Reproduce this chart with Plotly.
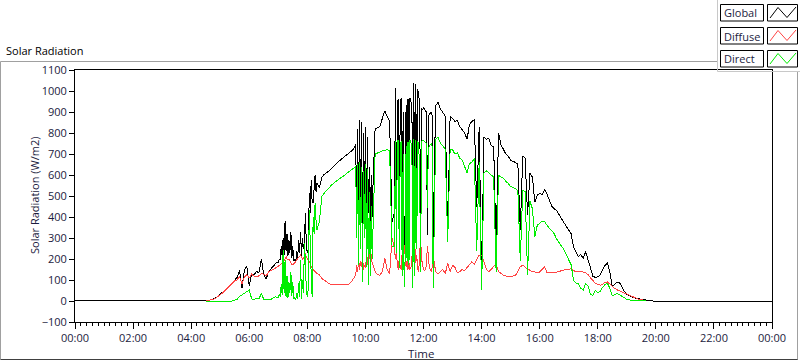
import plotly.graph_objects as go

# ---------------- data (minutes after midnight, W/m2) ----------------
minutes = ([0] + list(range(270, 416, 5)) + list(range(420, 501, 2))
           + list(range(505, 576, 5)) + list(range(580, 621, 2))
           + list(range(625, 656, 5)) + list(range(660, 741, 2))
           + list(range(745, 1201, 5)) + [1440])

global_rad = [0,
    # 04:30-06:55
    0, 2, 5, 8, 14, 22,
    32, 40, 52, 62, 75, 88, 100, 112, 145, 60, 150, 165,
    70, 130, 125, 140, 135, 200, 125, 105, 140, 155, 170, 180,
    # 07:00-08:20
    185, 200, 195, 260, 210, 300, 220, 380, 240, 320, 215, 290, 230, 330, 205,
    260, 190, 200, 185, 240, 200, 290, 230, 330, 210, 300, 250, 280, 420, 260,
    230, 250, 514, 420, 577, 470, 466, 540, 601, 520, 560,
    # 08:25-09:35
    540, 590, 603, 610, 620, 632, 645, 655, 665, 675, 685, 693, 702, 712, 722,
    # 09:40-10:20
    745, 420, 820, 380, 860, 400, 850, 360, 800, 430, 830, 350, 780, 420, 640,
    330, 600, 400, 580, 700, 820,
    # 10:25-10:55
    825, 830, 870, 905, 880, 856, 378,
    # 11:00-12:20
    420, 1015, 400, 950, 960, 378, 940, 968, 300, 900, 251, 420, 935, 400, 960,
    380, 968, 950, 940, 251, 1039, 330, 1031, 480, 1010, 985, 930, 410, 920, 910,
    920, 915, 905, 900, 314, 880, 890, 896, 900, 880, 299,
    # 12:25-12:55
    930, 945, 915, 900, 880, 320, 880,
    # 13
    870, 855, 860, 830, 815, 800, 770, 840, 855, 862, 450, 830,
    # 14
    120, 780, 770, 775, 740, 735, 250, 800, 745, 720, 700, 690,
    # 15
    670, 665, 660, 650, 340, 690, 680, 410, 610, 590, 470, 505,
    # 16
    512, 506, 530, 510, 478, 452, 440, 430, 412, 392, 370, 355,
    # 17
    338, 320, 255, 232, 212, 222, 203, 235, 195, 165, 118, 112,
    # 18
    115, 125, 150, 170, 180, 140, 70, 82, 90, 88, 65, 45,
    # 19
    32, 24, 20, 16, 12, 10, 8, 6, 4, 2, 1, 0,
    # 20:00
    0,
    0]

diffuse_rad = [None,
    0, 2, 5, 8, 13, 21,
    30, 38, 50, 60, 72, 84, 96, 100, 118, 80, 115, 125,
    110, 128, 118, 115, 120, 131, 128, 120, 138, 145, 150, 155,
    165, 170, 172, 178, 180, 185, 190, 205, 211, 200, 195, 200, 190, 185, 175,
    171, 175, 180, 187, 195, 200, 205, 215, 219, 210, 200, 205, 215, 227, 210,
    203, 195, 190, 180, 160, 155, 150, 148, 140, 135, 131,
    125, 107, 99, 90, 82, 79, 78, 78, 78, 77, 77, 78, 80, 88, 105,
    123, 170, 140, 200, 150, 190, 160, 210, 150, 170, 160, 200, 170, 230, 200,
    251, 210, 180, 170, 150, 140,
    125, 123, 140, 203, 150, 130, 299,
    250, 200, 240, 170, 150, 210, 160, 150, 235, 180, 267, 220, 160, 190, 150,
    180, 150, 160, 200, 307, 230, 267, 180, 220, 150, 140, 240, 299, 200, 160,
    150, 145, 150, 170, 260, 219, 160, 150, 140, 160, 219,
    140, 130, 140, 150, 130, 180, 140,
    170, 160, 135, 140, 150, 145, 160, 170, 187, 175, 200, 219,
    219, 180, 150, 140, 150, 165, 171, 140, 130, 123, 120, 115,
    115, 120, 123, 140, 163, 171, 160, 150, 147, 139, 139, 135,
    138, 150, 163, 135, 135, 133, 135, 138, 140, 143, 147, 150,
    150, 155, 145, 140, 140, 139, 138, 135, 125, 110, 95, 85,
    80, 75, 80, 88, 91, 80, 67, 60, 53, 48, 42, 36,
    32, 25, 20, 15, 10, 8, 6, 4, 2, None, None, None,
    None,
    None]

direct_rad = [None,
    0, 0, 0, 0, 0, -2,
    -3, -4, -5, -4, -3, 0, 3, 8, 22, 30, 35, 45,
    52, 10, 8, 12, 10, 35, 8, 5, 5, 8, 15, 20,
    15, 30, 20, 80, 30, 245, 40, 195, 20, 120, 15, 90, 40, 140, 25,
    90, 10, 15, 5, 40, 10, 85, 20, 195, 10, 100, 40, 275, 190, 45,
    20, 60, 434, 230, 120, 20, 400, 320, 466, 380, 340,
    380, 498, 514, 528, 540, 552, 562, 572, 580, 588, 596, 604, 612, 620, 630,
    640, 300, 650, 171, 660, 250, 640, 92, 620, 300, 650, 160, 630, 75, 520,
    120, 450, 200, 400, 560, 700,
    705, 712, 715, 718, 720, 715, 260,
    260, 760, 230, 760, 765, 155, 750, 760, 120, 700, 68, 200, 740, 190, 755,
    170, 765, 750, 740, 60, 770, 120, 765, 250, 760, 755, 600, 140, 760, 765,
    765, 760, 755, 750, 442, 720, 740, 745, 750, 735, 60,
    770, 780, 750, 740, 720, 283, 720,
    720, 700, 705, 680, 670, 640, 610, 655, 660, 680, 240, 660,
    52, 610, 620, 610, 600, 590, 140, 600, 590, 585, 570, 560,
    545, 540, 535, 525, 190, 530, 520, 123, 474, 440, 307, 360,
    368, 380, 378, 360, 345, 335, 320, 295, 275, 262, 245, 220,
    190, 172, 99, 85, 82, 60, 52, 83, 72, 30, 28, 50,
    40, 45, 65, 78, 85, 60, 25, 30, 35, 30, 22, 15,
    8, 5, 4, 3, 2, 2, 1, 1, 0, None, None, None,
    None,
    None]

series_names = ["Global", "Diffuse", "Direct"]
tick_minutes = list(range(0, 1441, 120))
tick_labels = ["00:00", "02:00", "04:00", "06:00", "08:00", "10:00", "12:00",
               "14:00", "16:00", "18:00", "20:00", "22:00", "00:00"]

for arr in (global_rad, diffuse_rad, direct_rad):
    assert len(arr) == len(minutes), (len(arr), len(minutes))

# ---------------- figure ----------------
W, H = 800, 361
L, R, T, B = 75, 28, 70, 39
PW, PH = W - L - R, H - T - B
FONT = "Open Sans"
TXT = "#1c1c40"
colors = ["#000000", "#ff4444", "#00ee00"]


def px(x):
    return (x - L) / PW


def py(y):
    return (T + PH - y) / PH


fig = go.Figure()
for name, vals, col in zip(series_names, [global_rad, diffuse_rad, direct_rad], colors):
    fig.add_trace(go.Scatter(x=minutes, y=vals, mode="lines", name=name,
                             line=dict(color=col, width=1), showlegend=False,
                             connectgaps=False, hoverinfo="skip"))

shapes = []


def line(x0, y0, x1, y1, color, width=1):
    shapes.append(dict(type="line", xref="paper", yref="paper",
                       x0=px(x0), y0=py(y0), x1=px(x1), y1=py(y1),
                       line=dict(color=color, width=width)))


# outer frame
line(0.5, 61.5, 717, 61.5, "#a0a0a0")
line(0.5, 61.5, 0.5, 359.5, "#a0a0a0")
line(0.5, 359.5, 798, 359.5, "#404040")
line(797.5, 71.5, 797.5, 359.5, "#a0a0a0")
# legend panel
line(717.5, 0, 717.5, 71.5, "#c8c8c8")
line(717.5, 71.5, 800, 71.5, "#c8c8c8")

legend_rows = [4.5, 27.5, 50.5]
annotations = []
for name, col, top in zip(series_names, colors, legend_rows):
    bot = top + 16.5
    shapes.append(dict(type="rect", xref="paper", yref="paper",
                       x0=px(720.5), x1=px(763.5), y0=py(top), y1=py(bot),
                       line=dict(color="#000000", width=1), fillcolor="white"))
    shapes.append(dict(type="rect", xref="paper", yref="paper",
                       x0=px(767.5), x1=px(797.5), y0=py(top), y1=py(bot),
                       line=dict(color="#000000", width=1), fillcolor="white"))
    pts = [(770, top + 13.5), (778, top + 3), (787, top + 13), (796, top + 2.5)]
    path = "M " + " L ".join(f"{px(a)},{py(b)}" for a, b in pts)
    shapes.append(dict(type="path", xref="paper", yref="paper", path=path,
                       line=dict(color=col, width=1)))
    annotations.append(dict(x=px(722), y=py(top + 8.5), xref="paper", yref="paper",
                            text=name, showarrow=False, xanchor="left", yanchor="middle",
                            font=dict(family=FONT, size=11, color=TXT)))

annotations += [
    dict(x=px(4), y=py(50), xref="paper", yref="paper", text="Solar Radiation",
         showarrow=False, xanchor="left", yanchor="middle",
         font=dict(family=FONT, size=11, color="#000000")),
    dict(x=px(34), y=py(196), xref="paper", yref="paper", text="Solar Radiation (W/m2)",
         showarrow=False, textangle=-90, xanchor="center", yanchor="middle",
         font=dict(family=FONT, size=11, color=TXT)),
    dict(x=px(421), y=py(353), xref="paper", yref="paper", text="Time",
         showarrow=False, xanchor="center", yanchor="middle",
         font=dict(family=FONT, size=11.5, color=TXT)),
]

fig.update_layout(
    width=W, height=H,
    margin=dict(l=L, r=R, t=T, b=B, pad=0),
    paper_bgcolor="white", plot_bgcolor="white",
    showlegend=False,
    shapes=shapes, annotations=annotations,
    font=dict(family=FONT, size=11, color=TXT),
    xaxis=dict(range=[0, 1440], tickmode="array", tickvals=tick_minutes,
               ticktext=tick_labels, ticks="outside", ticklen=6, tickcolor="#000000",
               showgrid=False, zeroline=False, showline=True, linecolor="#000000",
               linewidth=1, mirror=True,
               tickfont=dict(family=FONT, size=11, color=TXT),
               minor=dict(tickmode="linear", tick0=0, dtick=12, ticks="outside",
                          ticklen=3, tickcolor="#000000", showgrid=False)),
    yaxis=dict(range=[-100, 1100], tickmode="linear", tick0=-100, dtick=100,
               ticks="outside", ticklen=5, tickcolor="#000000",
               showgrid=False, zeroline=False, showline=True, linecolor="#000000",
               linewidth=1, mirror=True,
               tickfont=dict(family=FONT, size=11, color=TXT)),
)

post = ("document.body.style.margin='0px';document.body.style.overflow='hidden';"
        "document.querySelectorAll('.scatterlayer path.js-line').forEach(function(p){"
        "p.style.shapeRendering='crispEdges';});")
fig.write_html("out.html", config={"displayModeBar": False}, post_script=post)
